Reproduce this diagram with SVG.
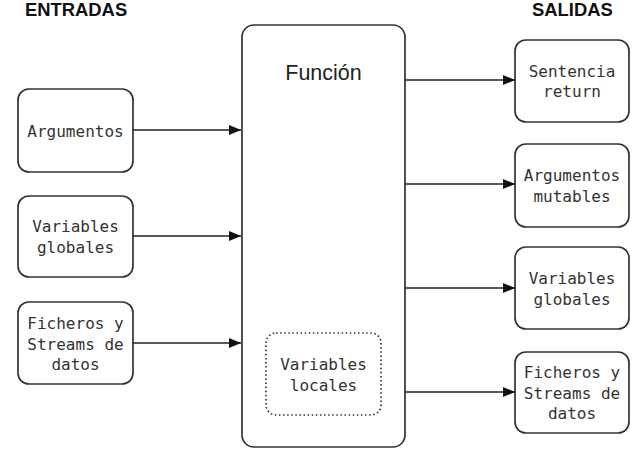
<svg xmlns="http://www.w3.org/2000/svg" width="638" height="469" viewBox="0 0 638 469">
<defs>
<style>
.box{fill:#fff;stroke:#333;stroke-width:1.7}
.dot{fill:none;stroke:#333;stroke-width:1.7;stroke-dasharray:1.5 2.6}
.t{font-family:"DejaVu Sans Mono","Liberation Mono",monospace;font-size:16px;fill:#333;text-anchor:middle}
.h{font-family:"Liberation Sans",Arial,sans-serif;font-weight:bold;font-size:18.4px;fill:#111}
.f{font-family:"Liberation Sans",Arial,sans-serif;font-size:21.5px;fill:#222;text-anchor:middle}
.c{stroke:#222;stroke-width:1.6;fill:none;marker-end:url(#ah)}
</style>
<marker id="ah" viewBox="0 0 12 10" refX="12" refY="5" markerWidth="12" markerHeight="10" markerUnits="userSpaceOnUse" orient="auto">
<path d="M0,0 L12,5 L0,10 z" fill="#111"/>
</marker>
</defs>
<rect width="638" height="469" fill="#fff"/>
<text class="h" x="25" y="16">ENTRADAS</text>
<text class="h" x="532" y="16">SALIDAS</text>

<g id="funcion">
<rect class="box" x="242" y="25" width="163" height="422" rx="12"/>
<text class="f" x="323.5" y="80">Función</text>
</g>
<g id="locales">
<rect class="dot" x="266" y="333" width="115" height="82" rx="10"/>
<text class="t" x="323.5" y="370">Variables</text>
<text class="t" x="323.5" y="391">locales</text>
</g>

<g id="in-argumentos">
<rect class="box" x="18" y="89" width="115" height="83" rx="11"/>
<text class="t" x="75.5" y="137">Argumentos</text>
</g>
<g id="in-globales">
<rect class="box" x="18" y="196" width="115" height="81" rx="11"/>
<text class="t" x="75.5" y="232">Variables</text>
<text class="t" x="75.5" y="253">globales</text>
</g>
<g id="in-ficheros">
<rect class="box" x="18" y="302" width="115" height="82" rx="11"/>
<text class="t" x="75.5" y="329">Ficheros y</text>
<text class="t" x="75.5" y="350">Streams de</text>
<text class="t" x="75.5" y="370">datos</text>
</g>

<g id="out-return">
<rect class="box" x="515" y="40" width="114" height="82" rx="11"/>
<text class="t" x="572" y="77">Sentencia</text>
<text class="t" x="572" y="97">return</text>
</g>
<g id="out-mutables">
<rect class="box" x="515" y="144" width="114" height="83" rx="11"/>
<text class="t" x="572" y="181">Argumentos</text>
<text class="t" x="572" y="202">mutables</text>
</g>
<g id="out-globales">
<rect class="box" x="515" y="247" width="114" height="82" rx="11"/>
<text class="t" x="572" y="284">Variables</text>
<text class="t" x="572" y="305">globales</text>
</g>
<g id="out-ficheros">
<rect class="box" x="515" y="352" width="114" height="81" rx="11"/>
<text class="t" x="572" y="378">Ficheros y</text>
<text class="t" x="572" y="399">Streams de</text>
<text class="t" x="572" y="419">datos</text>
</g>

<g id="connectors">
<line class="c" x1="133" y1="130" x2="241" y2="130"/>
<line class="c" x1="133" y1="236" x2="241" y2="236"/>
<line class="c" x1="133" y1="343" x2="241" y2="343"/>
<line class="c" x1="405" y1="80" x2="515" y2="80"/>
<line class="c" x1="405" y1="184" x2="515" y2="184"/>
<line class="c" x1="405" y1="288" x2="515" y2="288"/>
<line class="c" x1="405" y1="392" x2="515" y2="392"/>
</g>
</svg>
